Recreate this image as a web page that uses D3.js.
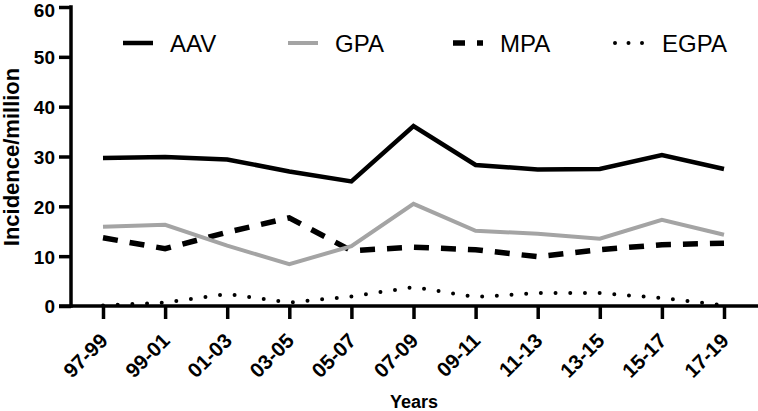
<!DOCTYPE html>
<html>
<head>
<meta charset="utf-8">
<script src="https://cdn.jsdelivr.net/npm/d3@7"></script>
<style>
  html, body { margin: 0; padding: 0; background: #fff; }
  svg { display: block; font-family: "Liberation Sans", Arial, sans-serif; }
</style>
</head>
<body>
<svg id="chart" width="758" height="411"></svg>
<script>
const categories = ["97-99","99-01","01-03","03-05","05-07","07-09","09-11","11-13","13-15","15-17","17-19"];
const aav  = [29.7, 29.9, 29.4, 27.0, 25.0, 36.1, 28.3, 27.4, 27.5, 30.3, 27.5];
const gpa  = [15.9, 16.3, 12.1, 8.4, 12.0, 20.5, 15.1, 14.5, 13.5, 17.3, 14.3];
const mpa  = [13.7, 11.5, 14.8, 17.7, 11.1, 11.8, 11.3, 9.9, 11.3, 12.3, 12.6];
const egpa = [0.1, 0.7, 2.4, 0.7, 1.9, 3.8, 1.8, 2.6, 2.6, 1.6, 0.1];
const seriesNames = ["AAV", "GPA", "MPA", "EGPA"];
const yTicks = [0, 10, 20, 30, 40, 50, 60];
const yTitle = "Incidence/million";
const xTitle = "Years";

const svg = d3.select("#chart");
const x = d3.scalePoint().domain(categories).range([103, 724]);
const y = d3.scaleLinear().domain([0, 60]).range([306, 7]);

const styles = {
  AAV:  {color: "#000", width: 4.5, dash: null, cap: "butt"},
  GPA:  {color: "#a4a4a4", width: 4, dash: null, cap: "butt"},
  MPA:  {color: "#000", width: 5.5, dash: "15 12", cap: "butt"},
  EGPA: {color: "#000", width: 4, dash: "0 14.7", cap: "round"}
};
const dataMap = {AAV: aav, GPA: gpa, MPA: mpa, EGPA: egpa};

// series lines
const line = d3.line().x((d, i) => x(categories[i])).y(d => y(d));
["EGPA", "MPA", "GPA", "AAV"].forEach(name => {
  const s = styles[name];
  svg.append("path")
    .datum(dataMap[name])
    .attr("d", line)
    .attr("fill", "none")
    .attr("stroke", s.color)
    .attr("stroke-width", s.width)
    .attr("stroke-dasharray", s.dash)
    .attr("stroke-linecap", s.cap)
    .attr("stroke-linejoin", "miter");
});

// Y axis
const yAxis = d3.axisLeft(y).tickValues(yTicks).tickSize(12).tickSizeOuter(0).tickPadding(4);
const gy = svg.append("g").attr("transform", "translate(71,0)").call(yAxis);
gy.select(".domain").remove();
gy.selectAll(".tick line").attr("stroke", "#000").attr("stroke-width", 3.5);
gy.selectAll(".tick text").attr("font-size", 19).attr("font-weight", "bold").attr("fill", "#000")
  .attr("font-family", "Liberation Sans, Arial, sans-serif")
  .attr("dy", d => d === 60 ? "0.52em" : "0.36em");
svg.append("line").attr("x1", 71).attr("x2", 71).attr("y1", y(60) - 1.75).attr("y2", y(0) + 1.75)
  .attr("stroke", "#000").attr("stroke-width", 3.5);

// X axis
const xAxis = d3.axisBottom(x).tickSize(13).tickSizeOuter(0);
const gx = svg.append("g").attr("transform", "translate(0,306)").call(xAxis);
gx.select(".domain").remove();
gx.selectAll(".tick line").attr("stroke", "#000").attr("stroke-width", 3.5);
gx.selectAll(".tick text").remove();
svg.append("line").attr("x1", 59).attr("x2", 758).attr("y1", 306).attr("y2", 306)
  .attr("stroke", "#000").attr("stroke-width", 3.5);
svg.append("g").selectAll("text").data(categories).join("text")
  .attr("transform", d => `translate(${x(d) + 6},342) rotate(-45)`)
  .attr("text-anchor", "end")
  .attr("font-size", 20.5).attr("font-weight", "bold").attr("fill", "#000")
  .text(d => d);

// titles
svg.append("text").attr("transform", "translate(19,157) rotate(-90)")
  .attr("text-anchor", "middle").attr("font-size", 22).attr("font-weight", "bold").text(yTitle);
svg.append("text").attr("x", 414).attr("y", 408)
  .attr("text-anchor", "middle").attr("font-size", 18).attr("font-weight", "bold").text(xTitle);

// legend
const legendX = [123, 288, 453, 615];
seriesNames.forEach((name, i) => {
  const s = styles[name];
  const g = svg.append("g");
  g.append("line").attr("x1", legendX[i]).attr("x2", legendX[i] + 30).attr("y1", 43).attr("y2", 43)
    .attr("stroke", s.color).attr("stroke-width", s.width)
    .attr("stroke-dasharray", name === "MPA" ? "12 12" : (name === "EGPA" ? "0 13.5" : null))
    .attr("stroke-linecap", s.cap);
  g.append("text").attr("x", legendX[i] + 47).attr("y", 52)
    .attr("font-size", 24).attr("fill", "#000").text(name);
});
</script>
</body>
</html>
